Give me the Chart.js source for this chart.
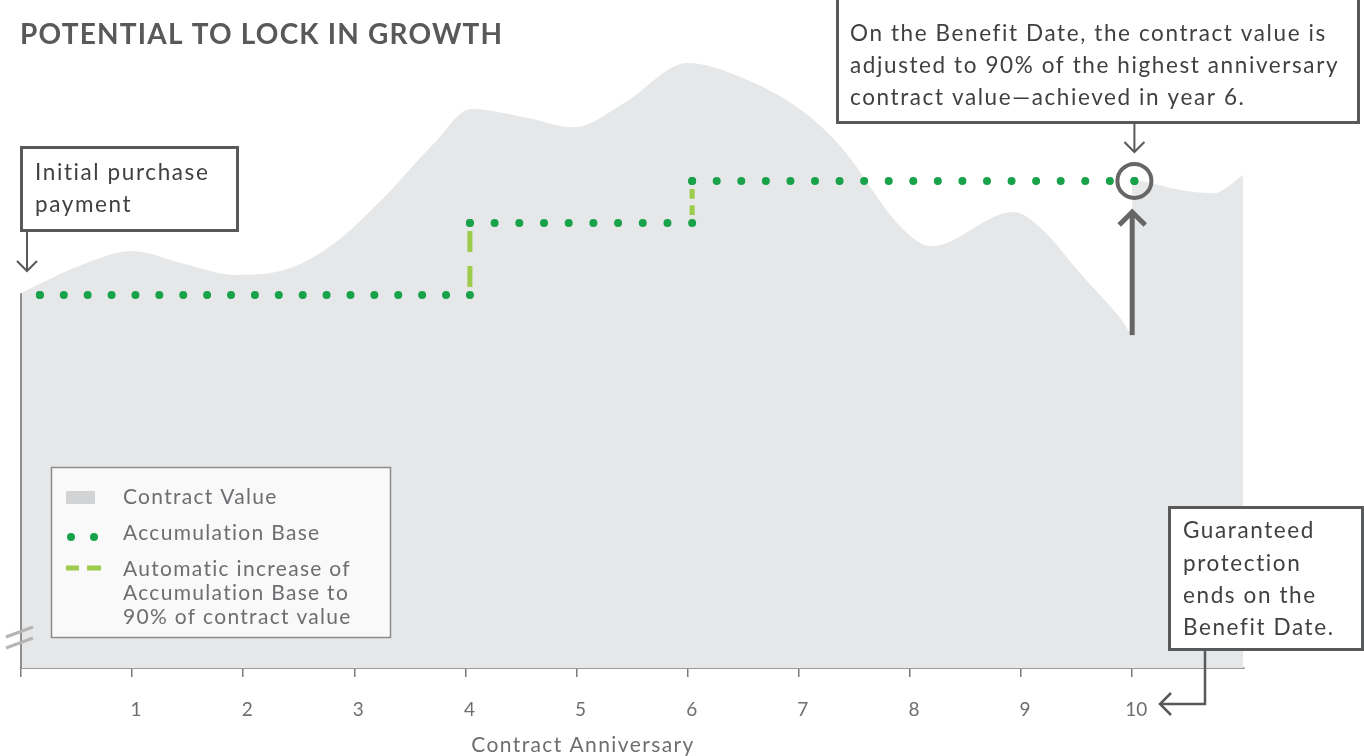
<!DOCTYPE html>
<html>
<head>
<meta charset="utf-8">
<script src="https://cdn.jsdelivr.net/npm/chart.js@4.4.1/dist/chart.umd.min.js"></script>
<style>
  html, body { margin: 0; padding: 0; background: #fff; }
  #wrap { position: relative; width: 1364px; height: 756px; }
</style>
</head>
<body>
<div id="wrap"><canvas id="growth-chart" width="1364" height="756"></canvas></div>
<script>
// Contract anniversaries shown on the axis
const anniversaries = [1, 2, 3, 4, 5, 6, 7, 8, 9, 10];

// Contract value; at year 10 (Benefit Date) it jumps up to the adjusted value
const contractX = [0, 0.5, 1.0, 1.47, 1.92, 2.37, 2.82, 3.27, 3.72, 4.05, 4.53, 4.98, 5.43, 6.0, 6.48, 7.02, 7.38, 7.92, 8.19, 8.93, 9.17, 9.53, 9.9, 10.0,
                   10.0, 10.43, 10.73, 11.0];
const contractValue = [100.5, 107.5, 111.8, 108.3, 105.4, 106.7, 113.9, 126.3, 140.8, 149.9, 147.7, 145.0, 151.5, 162.2, 158.4, 149.6, 139.7, 118.2, 113.1, 122.3, 118.2, 105.9, 93.6, 89.8,
                       130.8, 128.2, 127.3, 132.2];
const benefitDate = 10;

// Accumulation Base with its automatic step-ups
const baseX = [0.17, 4.04, 4.04, 6.04, 6.04, 10.02];
const baseValue = [100, 100, 119.3, 119.3, 130.6, 130.6];

const GREEN = '#18a24a';
const LIGHT_GREEN = '#9dcb4b';
const AREA = '#e6e7e8';
const TEXT = '#404041';
const SOFT = '#6d6e71';
const FONT = 'Lato, "Open Sans", sans-serif';

const toPoints = (xs, ys) => xs.map((x, i) => ({ x: x, y: ys[i] }));

// vertical pieces of the base line are the step-ups
const isStep = ctx => Math.abs(ctx.p0.x - ctx.p1.x) < 1;

function dotDash(ctx) {
    const len = Math.abs(ctx.p1.x - ctx.p0.x);
    const n = Math.max(1, Math.round(len / 24.4));
    return [0, len / n];
}

function stepDash(ctx) {
    const len = Math.abs(ctx.p1.y - ctx.p0.y);
    const margin = 8;
    const gap = (len - 2 * margin) * 0.25;
    const dash = (len - 2 * margin - gap) / 2;
    return [0, margin, dash, gap, dash, margin + 40];
}

function textLines(ctx, lines, x, y, lh, font, color, spacing, align) {
    ctx.font = font;
    ctx.fillStyle = color;
    ctx.textAlign = align || 'left';
    ctx.textBaseline = 'middle';
    ctx.letterSpacing = spacing || '0px';
    lines.forEach((t, i) => ctx.fillText(t, x, y + i * lh));
    ctx.letterSpacing = '0px';
    ctx.textAlign = 'left';
}

function noteBox(ctx, x, y, w, h) {
    ctx.fillStyle = '#fff';
    ctx.fillRect(x, y, w, h);
    ctx.strokeStyle = '#58595b';
    ctx.lineWidth = 3;
    ctx.strokeRect(x + 1.5, y + 1.5, w - 3, h - 3);
}

function chevron(ctx, tx, ty, dx, dy, size) {
    // open arrow head pointing along (dx, dy)
    const px = -dy, py = dx;
    ctx.beginPath();
    ctx.moveTo(tx - dx * size + px * size, ty - dy * size + py * size);
    ctx.lineTo(tx, ty);
    ctx.lineTo(tx - dx * size - px * size, ty - dy * size - py * size);
    ctx.stroke();
}

const notesPlugin = {
    id: 'notes',
    afterDraw(chart) {
        const { ctx, chartArea, scales: { x, y } } = chart;
        ctx.save();

        // left edge of the value area and axis break
        const x0 = x.getPixelForValue(0);
        ctx.strokeStyle = SOFT;
        ctx.lineWidth = 1.5;
        ctx.beginPath();
        ctx.moveTo(x0, y.getPixelForValue(contractValue[0]));
        ctx.lineTo(x0, chartArea.bottom);
        ctx.stroke();
        ctx.strokeStyle = '#b5b5b5';
        ctx.lineWidth = 3;
        ctx.beginPath();
        ctx.moveTo(6, 637); ctx.lineTo(33, 627);
        ctx.moveTo(6, 648); ctx.lineTo(33, 638);
        ctx.stroke();

        // chart title
        ctx.font = 'bold 28px ' + FONT;
        ctx.fillStyle = '#58595b';
        ctx.textBaseline = 'middle';
        ctx.letterSpacing = '1.2px';
        ctx.fillText('POTENTIAL TO LOCK IN GROWTH', 20, 35);
        ctx.letterSpacing = '0px';

        // x axis title
        textLines(ctx, ['Contract Anniversary'], 583, 745, 24, '21px ' + FONT, SOFT, '1.4px', 'center');

        // legend
        ctx.fillStyle = '#f9f9f9';
        ctx.fillRect(51, 467, 340, 171);
        ctx.strokeStyle = '#8c8c8c';
        ctx.lineWidth = 1.5;
        ctx.strokeRect(51.5, 467.5, 339, 170);
        ctx.fillStyle = '#d1d3d4';
        ctx.fillRect(66, 491, 29, 13);
        ctx.fillStyle = GREEN;
        [71, 94].forEach(cx => { ctx.beginPath(); ctx.arc(cx, 537, 4, 0, Math.PI * 2); ctx.fill(); });
        ctx.strokeStyle = LIGHT_GREEN;
        ctx.lineWidth = 5;
        ctx.beginPath();
        ctx.moveTo(66, 568); ctx.lineTo(79, 568);
        ctx.moveTo(87, 568); ctx.lineTo(101, 568);
        ctx.stroke();
        const legendFont = '21px ' + FONT;
        textLines(ctx, ['Contract Value'], 123, 497, 24, legendFont, SOFT, '1.3px');
        textLines(ctx, ['Accumulation Base'], 123, 533, 24, legendFont, SOFT, '1.3px');
        textLines(ctx, ['Automatic increase of', 'Accumulation Base to', '90% of contract value'], 123, 569, 24, legendFont, SOFT, '1.3px');

        const noteFont = '22.5px ' + FONT;

        // initial purchase payment
        noteBox(ctx, 20, 146, 219, 86);
        textLines(ctx, ['Initial purchase', 'payment'], 35, 173, 32, noteFont, TEXT, '1.6px');
        ctx.strokeStyle = '#58595b';
        ctx.lineWidth = 2;
        ctx.beginPath(); ctx.moveTo(27, 231); ctx.lineTo(27, 270); ctx.stroke();
        chevron(ctx, 27, 271, 0, 1, 10);

        // benefit date note
        const bx = x.getPixelForValue(baseX[baseX.length - 1]);
        const by = y.getPixelForValue(baseValue[baseValue.length - 1]);
        noteBox(ctx, 836, -5, 524, 129);
        textLines(ctx, ['On the Benefit Date, the contract value is',
                        'adjusted to 90% of the highest anniversary',
                        'contract value\u2014achieved in year 6.'], 850, 34, 32, noteFont, TEXT, '1.6px');
        ctx.strokeStyle = '#58595b';
        ctx.lineWidth = 2;
        ctx.beginPath(); ctx.moveTo(bx, 122); ctx.lineTo(bx, 151); ctx.stroke();
        chevron(ctx, bx, 152, 0, 1, 10);

        // circle round the adjusted value
        ctx.strokeStyle = '#666';
        ctx.lineWidth = 4;
        ctx.beginPath(); ctx.arc(bx, by, 17, 0, Math.PI * 2); ctx.stroke();

        // upward arrow from the unadjusted value
        const ax = x.getPixelForValue(benefitDate);
        const lowIdx = contractX.indexOf(benefitDate);
        ctx.lineWidth = 5;
        ctx.beginPath();
        ctx.moveTo(ax, y.getPixelForValue(contractValue[lowIdx]) + 2);
        ctx.lineTo(ax, by + 31);
        ctx.stroke();
        chevron(ctx, ax, by + 31, 0, -1, 13);

        // guaranteed protection note
        noteBox(ctx, 1168, 506, 196, 145);
        textLines(ctx, ['Guaranteed', 'protection', 'ends on the', 'Benefit Date.'], 1183, 531, 32.3, noteFont, TEXT, '1.6px');
        ctx.strokeStyle = '#58595b';
        ctx.lineWidth = 2.5;
        ctx.beginPath();
        ctx.moveTo(1205, 650); ctx.lineTo(1205, 704); ctx.lineTo(1161, 704);
        ctx.stroke();
        chevron(ctx, 1160, 704, -1, 0, 11);

        ctx.restore();
    }
};

new Chart(document.getElementById('growth-chart'), {
    type: 'line',
    data: {
        datasets: [
            {
                label: 'Accumulation Base',
                data: toPoints(baseX, baseValue),
                order: 0,
                fill: false,
                tension: 0,
                borderColor: GREEN,
                borderWidth: 8,
                pointRadius: 4,
                pointBorderWidth: 0,
                pointBackgroundColor: GREEN,
                segment: {
                    borderColor: ctx => isStep(ctx) ? LIGHT_GREEN : GREEN,
                    borderWidth: ctx => isStep(ctx) ? 5 : 8,
                    borderCapStyle: ctx => isStep(ctx) ? 'butt' : 'round',
                    borderDash: ctx => isStep(ctx) ? stepDash(ctx) : dotDash(ctx)
                }
            },
            {
                label: 'Contract Value',
                data: toPoints(contractX, contractValue),
                order: 1,
                fill: 'origin',
                backgroundColor: AREA,
                borderWidth: 0,
                pointRadius: 0,
                cubicInterpolationMode: 'monotone'
            }
        ]
    },
    options: {
        responsive: false,
        animation: false,
        layout: { padding: { left: 19, right: 120.7, top: 34, bottom: 0 } },
        plugins: {
            legend: { display: false },
            tooltip: { enabled: false }
        },
        scales: {
            x: {
                type: 'linear',
                min: 0,
                max: 11,
                afterFit: scale => { scale.height = 88; },
                border: { display: true, color: '#9a9a9a', width: 2 },
                grid: {
                    drawOnChartArea: false,
                    tickLength: 9,
                    lineWidth: 1.5,
                    color: c => (c.tick && c.tick.value <= 10) ? '#7a7a7a' : 'rgba(0,0,0,0)'
                },
                ticks: {
                    stepSize: 1,
                    autoSkip: false,
                    maxRotation: 0,
                    padding: 21,
                    labelOffset: 4,
                    color: SOFT,
                    font: { family: FONT, size: 19 },
                    callback: v => anniversaries.includes(v) ? String(v) : ''
                },
                title: { display: false }
            },
            y: {
                display: false,
                min: 0,
                max: 170
            }
        }
    },
    plugins: [notesPlugin]
});
</script>
</body>
</html>
